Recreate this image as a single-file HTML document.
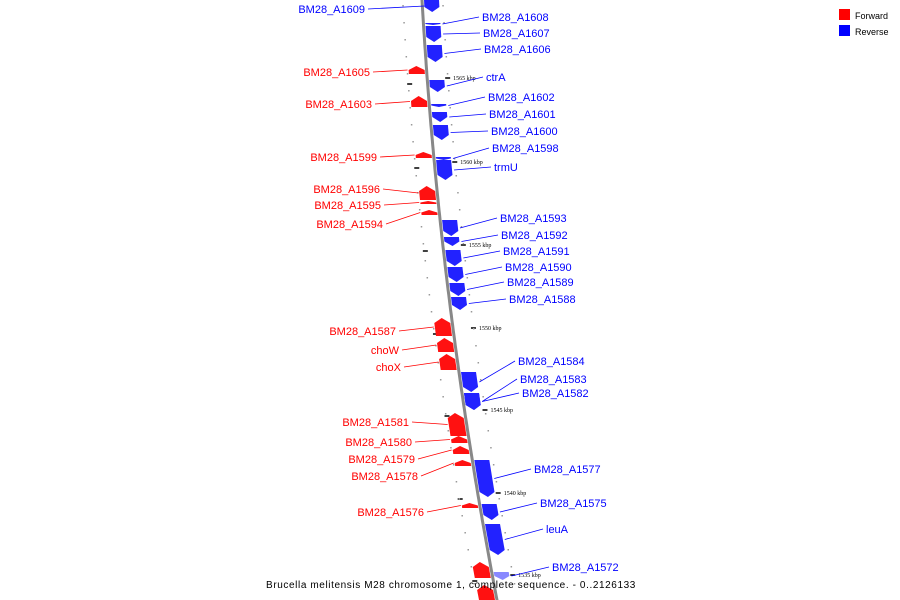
<!DOCTYPE html>
<html><head><meta charset="utf-8"><style>
body{margin:0;background:#fff;width:900px;height:600px;overflow:hidden}
svg{display:block;font-family:"Liberation Sans",sans-serif}
</style></head><body>
<svg id="map" width="900" height="600">
<g id="ticks"></g><path id="backbone" fill="none" stroke="#888" stroke-width="3"/>
<g id="genes"></g><g id="labels"></g>
<g>
<rect x="839" y="9" width="11" height="11" fill="#f00"/>
<text x="855" y="19" font-size="9">Forward</text>
<rect x="839" y="25" width="11" height="11" fill="#00f"/>
<text x="855" y="35" font-size="9">Reverse</text>
</g>
<text x="451" y="588" font-size="10" text-anchor="middle" letter-spacing="0.6">Brucella melitensis M28 chromosome 1, complete sequence. - 0..2126133</text>
</svg>
<script>
const geneNames=["BM28_A1609","BM28_A1608","BM28_A1607","BM28_A1606","ctrA","BM28_A1602","BM28_A1601","BM28_A1600","BM28_A1598","trmU","BM28_A1593","BM28_A1592","BM28_A1591","BM28_A1590","BM28_A1589","BM28_A1588","BM28_A1584","BM28_A1583","BM28_A1582","BM28_A1577","BM28_A1575","leuA","BM28_A1572",
"BM28_A1605","BM28_A1603","BM28_A1599","BM28_A1596","BM28_A1595","BM28_A1594","BM28_A1587","choW","choX","BM28_A1581","BM28_A1580","BM28_A1579","BM28_A1578","BM28_A1576","",""];
const geneStrand=[-1,-1,-1,-1,-1,-1,-1,-1,-1,-1,-1,-1,-1,-1,-1,-1,-1,-1,-1,-1,-1,-1,-1,1,1,1,1,1,1,1,1,1,1,1,1,1,1,1,1];
const geneStart=[0,23,26,45,80,104,112,125,157,160,220,237,250,267,283,297,372,393,393,460,504,524,572,66,96,152,186,201,210,318,338,354,413,436,446,460,503,562,585];
const geneEnd=[12,25,42,62,92,107,122,140,160,180,236,246,266,282,296,310,392,410,410,497,520,555,580,74,107,158,200,204,215,336,352,370,436,443,454,466,508,578,600];
const labelY=[9,17,33,49,77,97,114,131,148,167,218,235,251,267,282,299,361,379,393,469,503,529,567,72,104,157,189,205,224,331,350,367,422,442,459,476,512,0,0];
const labelX=[365,482,483,484,486,488,489,491,492,494,500,501,503,505,507,509,518,520,522,534,540,546,552,370,372,377,380,381,383,396,399,401,409,412,415,418,424,0,0];
const tickLabels=["1565 kbp","1560 kbp","1555 kbp","1550 kbp","1545 kbp","1540 kbp","1535 kbp"];
const tickY=[78,162,245,328,410,493,575];
const NS="http://www.w3.org/2000/svg";
function lx(y){return 422+0.0575*y+1.125e-4*y*y;}
let d="";for(let y=-5;y<=605;y+=5)d+=(y<0?"M":"L")+lx(y).toFixed(1)+" "+y;
document.getElementById("backbone").setAttribute("d",d);
const gG=document.getElementById("genes"),gL=document.getElementById("labels"),gT=document.getElementById("ticks");
for(let i=0;i<geneNames.length;i++){
 const s=geneStart[i],e=geneEnd[i],st=geneStrand[i];
 const a=st<0?2:-18,b=st<0?17:-2;
 const h=e-s,tip=Math.min(5,h/2);
 let pts;
 if(st<0) pts=[[lx(s)+a,s],[lx(s)+b,s],[lx(e-tip)+b,e-tip],[lx(e)+(a+b)/2,e],[lx(e-tip)+a,e-tip]];
 else pts=[[lx(s+tip)+a,s+tip],[lx(s)+(a+b)/2,s],[lx(s+tip)+b,s+tip],[lx(e)+b,e],[lx(e)+a,e]];
 const p=document.createElementNS(NS,"polygon");
 p.setAttribute("points",pts.map(q=>q[0].toFixed(1)+","+q[1].toFixed(1)).join(" "));
 p.setAttribute("fill",(i==22)?"#88f":(st<0?"#22f":"#f11"));
 
 
 gG.appendChild(p);
 if(!geneNames[i])continue;
 const col=st<0?"#00f":"#f00";
 const my=(s+e)/2;
 const left=(st>0)||i==0;
 const ln=document.createElementNS(NS,"line");
 const gx=left?lx(my)+(st<0?2:-19):lx(my)+19;
 ln.setAttribute("x1",gx);ln.setAttribute("y1",my);
 ln.setAttribute("x2",left?labelX[i]+3:labelX[i]-3);ln.setAttribute("y2",labelY[i]);
 ln.setAttribute("stroke",col);ln.setAttribute("stroke-width","0.8");
 
 
 gL.appendChild(ln);
 const t=document.createElementNS(NS,"text");
 t.setAttribute("x",left?labelX[i]+(i==0?0:0):labelX[i]);
 t.setAttribute("y",labelY[i]+4);
 t.setAttribute("font-size","11");t.setAttribute("fill",col);
 if(left)t.setAttribute("text-anchor","end");
 t.textContent=geneNames[i];
 
 
 gL.appendChild(t);
}
for(let i=0;i<tickLabels.length;i++){
 const y=tickY[i];
 const r=document.createElementNS(NS,"line");
 r.setAttribute("x1",lx(y)+18);r.setAttribute("x2",lx(y)+23);r.setAttribute("y1",y);r.setAttribute("y2",y);
 r.setAttribute("stroke","#000");r.setAttribute("stroke-width","1.5");
 
 
 gT.appendChild(r);
 const l=document.createElementNS(NS,"line");
 l.setAttribute("x1",lx(y)-20);l.setAttribute("x2",lx(y)-15);l.setAttribute("y1",y+6);l.setAttribute("y2",y+6);
 l.setAttribute("stroke","#000");l.setAttribute("stroke-width","1.5");
 
 
 gT.appendChild(l);
 const t=document.createElementNS(NS,"text");
 t.setAttribute("x",lx(y)+26);t.setAttribute("y",y+2);t.setAttribute("font-size","6");
 t.setAttribute("font-family","Liberation Serif, serif");t.textContent=tickLabels[i];
 
 
 gT.appendChild(t);
}
for(let y=5;y<600;y+=17){
 for(const off of [-20,20]){
  const c=document.createElementNS(NS,"rect");
  c.setAttribute("x",lx(y)+off);c.setAttribute("y",y);c.setAttribute("width","1.5");c.setAttribute("height","1.5");c.setAttribute("fill","#999");
  
  
  gT.appendChild(c);
 }
}
</script>
</body></html>
